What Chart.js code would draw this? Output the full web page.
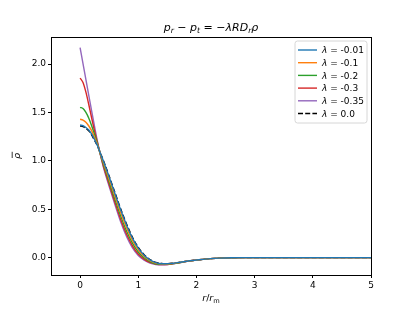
<!DOCTYPE html>
<html>
<head>
<meta charset="utf-8">
<script src="https://cdn.jsdelivr.net/npm/chart.js@4.4.1/dist/chart.umd.min.js"></script>
<style>
  html, body { margin: 0; padding: 0; background: #fff; }
  canvas { display: block; }
</style>
</head>
<body>
<canvas id="chart" width="413" height="310"></canvas>
<script>
// r / r_m sample positions
const rValues = [0, 0.05, 0.1, 0.15, 0.2, 0.25, 0.3, 0.35,
  0.4, 0.5, 0.6, 0.7, 0.8, 0.9, 1.0, 1.1, 1.2, 1.3, 1.4, 1.5, 1.6, 1.7, 1.8,
  2.0, 2.2, 2.4, 2.6, 2.8, 3.0, 3.5, 4.0, 4.5, 5.0];

// rho-bar for each lambda
const rhoL001 = [1.37, 1.364, 1.345, 1.318, 1.275, 1.218, 1.155, 1.075,
  0.999, 0.832, 0.66, 0.489, 0.335, 0.201, 0.098, 0.025, -0.023, -0.052, -0.064, -0.064, -0.058, -0.05, -0.04,
  -0.025, -0.013, -0.006, -0.002, 0, 0, 0, 0, 0, 0];
const rhoL01 = [1.43, 1.422, 1.40, 1.36, 1.31, 1.24, 1.165, 1.07,
  0.984, 0.808, 0.632, 0.46, 0.306, 0.177, 0.079, 0.013, -0.031, -0.058, -0.066, -0.066, -0.06, -0.051, -0.041,
  -0.025, -0.013, -0.006, -0.002, 0, 0, 0, 0, 0, 0];
const rhoL02 = [1.553, 1.54, 1.50, 1.44, 1.36, 1.27, 1.175, 1.065,
  0.966, 0.782, 0.601, 0.426, 0.273, 0.15, 0.058, -0.002, -0.041, -0.064, -0.069, -0.069, -0.062, -0.053, -0.042,
  -0.026, -0.013, -0.006, -0.002, 0, 0, 0, 0, 0, 0];
const rhoL03 = [1.855, 1.81, 1.71, 1.58, 1.44, 1.305, 1.185, 1.062,
  0.949, 0.756, 0.57, 0.392, 0.241, 0.122, 0.037, -0.016, -0.05, -0.066, -0.072, -0.071, -0.063, -0.054, -0.042,
  -0.026, -0.013, -0.006, -0.002, 0, 0, 0, 0, 0, 0];
const rhoL035 = [2.17, 2.005, 1.84, 1.675, 1.51, 1.35, 1.195, 1.06,
  0.935, 0.735, 0.545, 0.365, 0.215, 0.10, 0.022, -0.026, -0.056, -0.071, -0.074, -0.072, -0.064, -0.055, -0.043,
  -0.026, -0.013, -0.006, -0.002, 0, 0, 0, 0, 0, 0];
const rhoL0 = [1.36, 1.354, 1.335, 1.31, 1.265, 1.21, 1.15, 1.078,
  1.005, 0.84, 0.67, 0.50, 0.345, 0.21, 0.105, 0.03, -0.02, -0.05, -0.06, -0.062, -0.057, -0.05, -0.04,
  -0.025, -0.013, -0.006, -0.002, 0, 0, 0, 0, 0, 0];

const lambdaLabels = ['-0.01', '-0.1', '-0.2', '-0.3', '-0.35', '0.0'];
const xTicks = [0, 1, 2, 3, 4, 5];
const yTicks = [0, 0.5, 1, 1.5, 2];

const seriesData = [rhoL001, rhoL01, rhoL02, rhoL03, rhoL035, rhoL0];
const seriesColors = ['#1f77b4', '#ff7f0e', '#2ca02c', '#d62728', '#9467bd', '#000000'];
const FONT = '"DejaVu Sans", sans-serif';

// draw a little piece of "mathtext": [text, style] with style i=italic, r=roman, si/sr=subscript
function drawMath(ctx, parts, x, y, size, align) {
    const fontFor = (st) => {
        const s = st[0] === 's' ? size * 0.7 : size;
        return (st.endsWith('i') ? 'italic ' : '') + s + 'px ' + FONT;
    };
    let w = 0;
    parts.forEach(([t, st]) => { ctx.font = fontFor(st); w += ctx.measureText(t).width; });
    let cx = align === 'center' ? x - w / 2 : x;
    parts.forEach(([t, st]) => {
        ctx.font = fontFor(st);
        ctx.fillText(t, cx, st[0] === 's' ? y + size * 0.22 : y);
        cx += ctx.measureText(t).width;
    });
    return w;
}

const decorPlugin = {
    id: 'decor',
    afterDraw(chart) {
        const { ctx, chartArea: a } = chart;
        ctx.save();
        // frame
        ctx.strokeStyle = '#000';
        ctx.lineWidth = 1;
        ctx.strokeRect(Math.round(a.left) + 0.5, Math.round(a.top) + 0.5,
            Math.round(a.right - a.left), Math.round(a.bottom - a.top));

        ctx.fillStyle = '#000';
        ctx.textBaseline = 'alphabetic';
        ctx.textAlign = 'left';
        // title
        drawMath(ctx, [['p', 'i'], ['r', 'si'], [' \u2212 ', 'r'], ['p', 'i'], ['t', 'si'],
            [' = \u2212', 'r'], ['\u03bbRD', 'i'], ['r', 'si'], ['\u03c1', 'i']],
            (a.left + a.right) / 2, 30.5, 11, 'center');
        // x label
        drawMath(ctx, [['r', 'i'], ['/', 'r'], ['r', 'i'], ['m', 'sr']],
            (a.left + a.right) / 2, 301, 9.5, 'center');
        // y label (rho bar)
        ctx.save();
        ctx.translate(20, (a.top + a.bottom) / 2);
        ctx.rotate(-Math.PI / 2);
        ctx.font = 'italic 9.5px ' + FONT;
        const rw = ctx.measureText('\u03c1').width;
        ctx.fillText('\u03c1', -rw / 2, 0);
        ctx.beginPath();
        ctx.lineWidth = 0.8;
        ctx.moveTo(-rw / 2 + 1, -7.8);
        ctx.lineTo(rw / 2 + 1.2, -7.8);
        ctx.stroke();
        ctx.restore();

        // legend
        const bx = 295, by = 41, bw = 72, bh = 82, r = 2.5;
        ctx.beginPath();
        ctx.moveTo(bx + r, by);
        ctx.arcTo(bx + bw, by, bx + bw, by + bh, r);
        ctx.arcTo(bx + bw, by + bh, bx, by + bh, r);
        ctx.arcTo(bx, by + bh, bx, by, r);
        ctx.arcTo(bx, by, bx + bw, by, r);
        ctx.closePath();
        ctx.fillStyle = 'rgba(255,255,255,0.8)';
        ctx.fill();
        ctx.strokeStyle = '#d6d6d6';
        ctx.lineWidth = 1;
        ctx.stroke();
        chart.data.datasets.forEach((ds, i) => {
            const yy = 50 + i * 12.7;
            ctx.beginPath();
            ctx.strokeStyle = ds.borderColor;
            ctx.lineWidth = 1.4;
            ctx.setLineDash(ds.borderDash || []);
            ctx.moveTo(298, yy);
            ctx.lineTo(317, yy);
            ctx.stroke();
            ctx.setLineDash([]);
            ctx.fillStyle = '#000';
            drawMath(ctx, [['\u03bb', 'i'], [' = ', 'r'], [lambdaLabels[i], 'r']], 322, yy + 3.3, 9, 'left');
        });
        ctx.restore();
    }
};

const datasets = seriesData.map((vals, i) => ({
    label: '\u03bb = ' + lambdaLabels[i],
    data: rValues.map((r, k) => ({ x: r, y: vals[k] })),
    borderColor: seriesColors[i],
    borderWidth: 1.4,
    borderDash: i === 5 ? [5, 2.2] : [],
    pointRadius: 0,
    fill: false,
    cubicInterpolationMode: 'monotone'
}));

new Chart(document.getElementById('chart').getContext('2d'), {
    type: 'line',
    data: { datasets },
    options: {
        responsive: false,
        animation: false,
        devicePixelRatio: 1,
        layout: { padding: { left: 0, top: 37, right: 42, bottom: 0 } },
        plugins: { legend: { display: false }, tooltip: { enabled: false }, title: { display: false } },
        scales: {
            x: {
                type: 'linear', min: -0.5, max: 5,
                afterBuildTicks: (s) => { s.ticks = xTicks.map(v => ({ value: v })); },
                afterFit: (s) => { s.height = 35; },
                grid: { display: true, drawOnChartArea: false, drawTicks: true, tickLength: 3, color: '#000' },
                border: { display: true, color: '#000' },
                ticks: { color: '#000', font: { family: FONT, size: 9 }, padding: 2, maxRotation: 0,
                    callback: (v) => String(v) }
            },
            y: {
                type: 'linear', min: -0.18, max: 2.28,
                afterBuildTicks: (s) => { s.ticks = yTicks.map(v => ({ value: v })); },
                afterFit: (s) => { s.width = 51; },
                grid: { display: true, drawOnChartArea: false, drawTicks: true, tickLength: 3, color: '#000' },
                border: { display: true, color: '#000' },
                ticks: { color: '#000', font: { family: FONT, size: 9 }, padding: 2,
                    callback: (v) => v.toFixed(1) }
            }
        }
    },
    plugins: [decorPlugin]
});
</script>
</body>
</html>
